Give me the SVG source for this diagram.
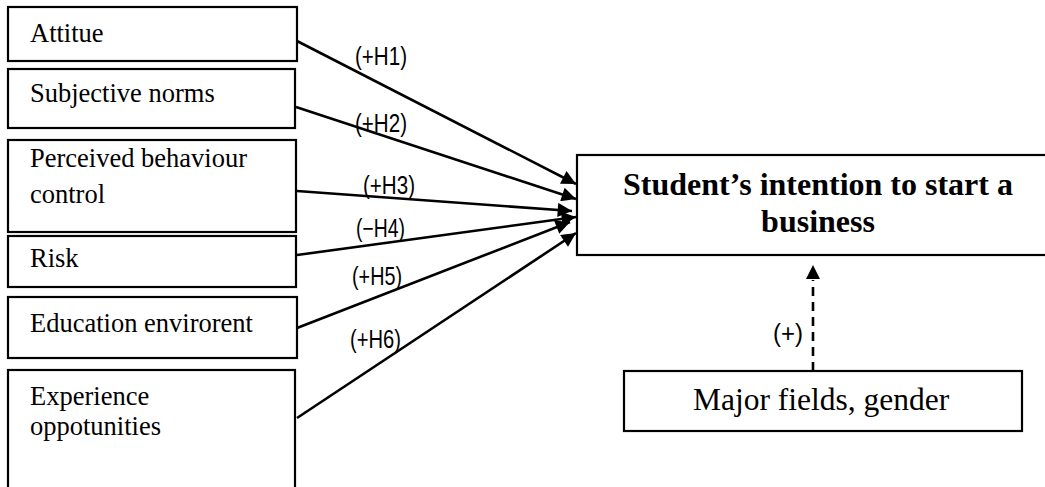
<svg xmlns="http://www.w3.org/2000/svg" width="1045" height="487" viewBox="0 0 1045 487">
<style>
.box{fill:#fff;stroke:#000;stroke-width:2.2}
.t{font-family:"Liberation Serif","Times New Roman",serif;font-size:26.5px;fill:#000}
.big{font-family:"Liberation Serif","Times New Roman",serif;font-size:32px;font-weight:bold;fill:#000}
.mf{font-family:"Liberation Serif","Times New Roman",serif;font-size:31.5px;fill:#000}
.lb{font-family:"Liberation Sans",Arial,sans-serif;font-size:25px;fill:#000}
.c{stroke:#000;stroke-width:2.6;fill:none}
</style>
<defs>
<marker id="ah" viewBox="0 0 10 10" refX="10" refY="5" markerWidth="6.5" markerHeight="5.5" markerUnits="strokeWidth" orient="auto">
<path d="M0,0 L10,5 L0,10 z" fill="#000"/>
</marker>
</defs>
<rect width="1045" height="487" fill="#fff"/>
<g id="attitude"><rect class="box" x="8" y="7" width="289" height="54"/><text class="t" x="30" y="42">Attitue</text></g>
<g id="subjective-norms"><rect class="box" x="8" y="69" width="287" height="59"/><text class="t" x="30" y="102">Subjective norms</text></g>
<g id="pbc"><rect class="box" x="8" y="140" width="288" height="92"/><text class="t" x="30" y="167">Perceived behaviour</text><text class="t" x="30" y="203">control</text></g>
<g id="risk"><rect class="box" x="8" y="236" width="288" height="51"/><text class="t" x="30" y="267">Risk</text></g>
<g id="education"><rect class="box" x="8" y="297" width="289" height="61"/><text class="t" x="30" y="332">Education envirorent</text></g>
<g id="experience"><rect class="box" x="8" y="370" width="287" height="130"/><text class="t" x="30" y="405">Experience</text><text class="t" x="30" y="435">oppotunities</text></g>
<g id="intention"><rect class="box" x="577" y="155" width="480" height="100"/><text class="big" x="818" y="195" text-anchor="middle">Student’s intention to start a</text><text class="big" x="818" y="232" text-anchor="middle">business</text></g>
<g id="moderator"><rect class="box" x="624" y="371" width="398" height="60"/><text class="mf" x="693" y="410">Major fields, gender</text></g>
<g id="connectors">
<line class="c" x1="297" y1="41" x2="576" y2="184" marker-end="url(#ah)"/>
<line class="c" x1="296" y1="107" x2="576" y2="199" marker-end="url(#ah)"/>
<line class="c" x1="297" y1="191" x2="572" y2="211" marker-end="url(#ah)"/>
<line class="c" x1="297" y1="255" x2="576" y2="217" marker-end="url(#ah)"/>
<line class="c" x1="297" y1="328" x2="570" y2="222" marker-end="url(#ah)"/>
<line class="c" x1="297" y1="418" x2="576" y2="233" marker-end="url(#ah)"/>
<line x1="813" y1="371" x2="813" y2="280" stroke="#000" stroke-width="2.6" stroke-dasharray="9,6"/>
<path d="M813,265 L820,279 L806,279 z" fill="#000"/>
<text class="lb" x="355" y="65" textLength="52" lengthAdjust="spacingAndGlyphs">(+H1)</text>
<text class="lb" x="355" y="132" textLength="52" lengthAdjust="spacingAndGlyphs">(+H2)</text>
<text class="lb" x="363" y="194" textLength="52" lengthAdjust="spacingAndGlyphs">(+H3)</text>
<text class="lb" x="356" y="237" textLength="49" lengthAdjust="spacingAndGlyphs">(−H4)</text>
<text class="lb" x="352" y="285" textLength="50" lengthAdjust="spacingAndGlyphs">(+H5)</text>
<text class="lb" x="350" y="348" textLength="51" lengthAdjust="spacingAndGlyphs">(+H6)</text>
<text class="lb" x="773" y="342" textLength="30" lengthAdjust="spacingAndGlyphs">(+)</text>
</g>
</svg>
